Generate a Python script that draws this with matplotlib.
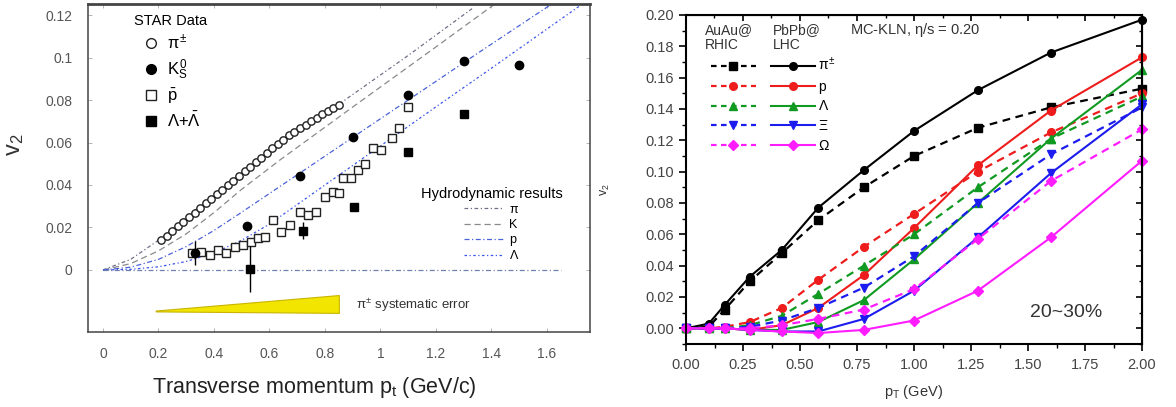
import matplotlib
matplotlib.use("Agg")
import matplotlib.pyplot as plt
from matplotlib.lines import Line2D
from matplotlib.ticker import MultipleLocator, FormatStrFormatter

plt.rcParams['font.family'] = ['Liberation Sans', 'DejaVu Sans']
plt.rcParams['mathtext.fontset'] = 'custom'
plt.rcParams['mathtext.rm'] = 'Liberation Sans'
plt.rcParams['mathtext.it'] = 'Liberation Sans'

# ---------------- left panel: STAR data + hydro ----------------
pion_pt = [0.21, 0.23, 0.25, 0.27, 0.29, 0.31, 0.33, 0.35, 0.37, 0.39, 0.41,
           0.43, 0.45, 0.47, 0.49, 0.51, 0.53, 0.55, 0.57, 0.59, 0.61, 0.63,
           0.65, 0.67, 0.69, 0.71, 0.73, 0.75, 0.77, 0.79, 0.81, 0.83, 0.85]
pion_v2 = [0.0140, 0.0162, 0.0183, 0.0205, 0.0226, 0.0248, 0.0270, 0.0291,
           0.0313, 0.0334, 0.0356, 0.0378, 0.0399, 0.0421, 0.0442, 0.0464,
           0.0486, 0.0507, 0.0529, 0.0550, 0.0572, 0.0594, 0.0614, 0.0633,
           0.0651, 0.0668, 0.0684, 0.0700, 0.0716, 0.0732, 0.0747, 0.0762,
           0.0777]

kaon_pt = [0.33, 0.52, 0.71, 0.90, 1.10, 1.30, 1.50]
kaon_v2 = [0.0080, 0.0207, 0.0444, 0.0626, 0.0824, 0.0984, 0.0965]
kaon_err = [0.0055, 0.0020, 0.0015, 0.0015, 0.0015, 0.0015, 0.0015]

pbar_pt = [0.319, 0.355, 0.385, 0.414, 0.445, 0.475, 0.504, 0.535, 0.558,
           0.583, 0.612, 0.643, 0.673, 0.709, 0.738, 0.769, 0.799, 0.828,
           0.850, 0.865, 0.892, 0.918, 0.943, 0.972, 1.003, 1.040, 1.068,
           1.100]
pbar_v2 = [0.0078, 0.0086, 0.0071, 0.0094, 0.0082, 0.0108, 0.0118, 0.0133,
           0.0150, 0.0155, 0.0235, 0.0180, 0.0212, 0.0275, 0.0259, 0.0275,
           0.0345, 0.0368, 0.0360, 0.0433, 0.0433, 0.0470, 0.0500, 0.0574,
           0.0565, 0.0620, 0.0668, 0.0767]

lam_pt = [0.53, 0.72, 0.906, 1.10, 1.30]
lam_v2 = [0.0005, 0.0184, 0.0296, 0.0555, 0.0734]
lam_err = [0.0110, 0.0040, 0.0015, 0.0015, 0.0015]

hydro_pi_pt = [0, 0.1, 0.2, 0.3, 0.4, 0.6, 0.85, 1.1, 1.33]
hydro_pi_v2 = [0, 0.005, 0.014, 0.025, 0.035, 0.056, 0.078, 0.101, 0.123]
hydro_k_pt = [0, 0.1, 0.2, 0.3, 0.4, 0.5, 0.64, 0.9, 1.2, 1.41]
hydro_k_v2 = [0, 0.003, 0.009, 0.017, 0.027, 0.038, 0.052, 0.0767, 0.105, 0.125]
hydro_p_pt = [0, 0.1, 0.2, 0.3, 0.4, 0.5, 0.6, 0.7, 0.8, 0.9, 1.1, 1.35, 1.615]
hydro_p_v2 = [0, 0.0013, 0.005, 0.011, 0.0186, 0.0272, 0.036, 0.0448, 0.0536,
              0.0624, 0.080, 0.102, 0.125]
hydro_l_pt = [0, 0.1, 0.2, 0.3, 0.4, 0.5, 0.6, 0.7, 0.8, 0.9, 1.0, 1.2, 1.4, 1.72]
hydro_l_v2 = [0, 0.0003, 0.0015, 0.004, 0.008, 0.014, 0.0216, 0.0308, 0.040,
              0.0492, 0.0584, 0.0768, 0.095, 0.1245]
zero_pt = [0.0, 1.65]
zero_v2 = [0.0, 0.0]

syst_pt = [0.19, 0.85]
syst_lo = [-0.0195, -0.0202]
syst_hi = [-0.0191, -0.0118]

left_xticks = [0, 0.2, 0.4, 0.6, 0.8, 1.0, 1.2, 1.4, 1.6]
left_xlabels = ['0', '0.2', '0.4', '0.6', '0.8', '1', '1.2', '1.4', '1.6']
left_yticks = [0, 0.02, 0.04, 0.06, 0.08, 0.1, 0.12]
left_ylabels = ['0', '0.02', '0.04', '0.06', '0.08', '0.1', '0.12']

# ---------------- right panel: MC-KLN hydro, RHIC vs LHC ----------------
pt_grid = [0.0, 0.1, 0.17, 0.28, 0.42, 0.58, 0.78, 1.0, 1.28, 1.6, 2.0]
species = ['$\\pi^{\\pm}$', 'p', '$\\Lambda$', '$\\Xi$', '$\\Omega$']
colors = ['#000000', '#ee1c1c', '#119a22', '#1c1cee', '#ff1cff']
markers = ['s', 'o', '^', 'v', 'D']
lhc_markers = ['o', 'o', '^', 'v', 'D']

lhc_v2 = [
    [0.0, 0.003, 0.015, 0.033, 0.050, 0.077, 0.101, 0.126, 0.152, 0.176, 0.197],
    [0.0, 0.0, 0.0, -0.001, 0.002, 0.013, 0.034, 0.064, 0.104, 0.139, 0.173],
    [0.0, 0.0, 0.0, -0.001, -0.001, 0.004, 0.018, 0.044, 0.080, 0.121, 0.165],
    [0.0, 0.0, 0.0, -0.001, -0.002, -0.002, 0.006, 0.024, 0.058, 0.099, 0.143],
    [0.0, 0.0, 0.0, -0.001, -0.002, -0.003, -0.001, 0.005, 0.024, 0.058, 0.107],
]
rhic_v2 = [
    [0.0, 0.001, 0.012, 0.030, 0.048, 0.069, 0.090, 0.110, 0.128, 0.141, 0.153],
    [0.0, 0.0, 0.001, 0.004, 0.013, 0.031, 0.052, 0.073, 0.100, 0.125, 0.150],
    [0.0, 0.0, 0.0, 0.002, 0.008, 0.022, 0.040, 0.060, 0.090, 0.121, 0.148],
    [0.0, 0.0, 0.0, 0.001, 0.005, 0.013, 0.026, 0.046, 0.080, 0.111, 0.141],
    [0.0, 0.0, 0.0, 0.0, 0.002, 0.006, 0.012, 0.025, 0.057, 0.094, 0.127],
]

fig = plt.figure(figsize=(11.76, 4.07), dpi=100)

# ======== left panel ========
ax1 = fig.add_axes([88 / 1176, 1 - 332 / 407, 502 / 1176, 328 / 407])
hydro_style = [
    (hydro_pi_pt, hydro_pi_v2, '#707088', (0, (3, 2, 1, 2)), '$\\pi$'),
    (hydro_k_pt, hydro_k_v2, '#8a8a8a', (0, (5, 3)), 'K'),
    (hydro_p_pt, hydro_p_v2, '#4b63d8', (0, (4, 2, 1, 2)), 'p'),
    (hydro_l_pt, hydro_l_v2, '#3b55e8', (0, (2, 2, 1, 2)), '$\\Lambda$'),
]
hydro_handles = []
for xs, ys, c, ls, lab in hydro_style:
    ax1.plot(xs, ys, color=c, ls=ls, lw=0.9)
    hydro_handles.append(Line2D([], [], color=c, ls=ls, lw=0.9))
ax1.plot(zero_pt, zero_v2, color='#7080b0', ls=(0, (4, 2, 1, 2)), lw=0.9)

ax1.fill_between(syst_pt, syst_lo, syst_hi, color='#f2e600',
                 edgecolor='#c8b400', lw=0.8)
ax1.text(0.91, -0.0165, '$\\pi^{\\pm}$ systematic error', fontsize=9.5,
         color='#333333', va='center')

ax1.plot(pion_pt, pion_v2, 'o', mfc='white', mec='#222222', ms=5.3, mew=1.0)
ax1.plot(pbar_pt, pbar_v2, 's', mfc='white', mec='#222222', ms=6, mew=1.0)
ax1.errorbar(kaon_pt, kaon_v2, yerr=kaon_err, fmt='o', color='black',
             ms=6, elinewidth=1.0, capsize=0)
ax1.errorbar(lam_pt, lam_v2, yerr=lam_err, fmt='s', color='black',
             ms=5.5, elinewidth=1.0, capsize=0)

ax1.set_xlim(-0.054, 1.755)
ax1.set_ylim(-0.0292, 0.1252)
ax1.set_xticks(left_xticks)
ax1.set_xticklabels(left_xlabels)
ax1.set_yticks(left_yticks)
ax1.set_yticklabels(left_ylabels)
ax1.tick_params(direction='in', length=3, width=0.6, colors='#aaaaaa',
                labelcolor='#555555', labelsize=10, top=True, right=True,
                pad=11)
for side in ax1.spines.values():
    side.set_color('#444444')
    side.set_linewidth(1.1)
ax1.spines['top'].set_linewidth(2.0)

star_handles = [
    Line2D([], [], marker='o', mfc='white', mec='#222222', ls='none', ms=7),
    Line2D([], [], marker='o', color='black', ls='none', ms=7),
    Line2D([], [], marker='s', mfc='white', mec='#222222', ls='none', ms=7),
    Line2D([], [], marker='s', color='black', ls='none', ms=7),
]
star_labels = ['$\\pi^{\\pm}$', '$K^0_S$', '$\\bar{p}$', '$\\Lambda$+$\\bar{\\Lambda}$']
leg1 = ax1.legend(star_handles, star_labels, title='STAR Data',
                  loc='upper left', bbox_to_anchor=(0.075, 0.995),
                  frameon=False, fontsize=12, title_fontsize=10.5,
                  handletextpad=0.0, labelspacing=0.3, borderpad=0,
                  alignment='left')
ax1.add_artist(leg1)
ax1.legend(hydro_handles, [h[4] for h in hydro_style],
           title='Hydrodynamic results', loc='upper left',
           bbox_to_anchor=(0.65, 0.462), frameon=False, fontsize=9,
           title_fontsize=10.5, handlelength=3.2, handletextpad=0.4,
           labelspacing=0.25, borderpad=0, alignment='center')

fig.text(15 / 1176, 1 - 145 / 407, 'v$_2$', rotation=90, fontsize=17,
         ha='center', va='center', color='#333333')
fig.text(314 / 1176, 1 - 387 / 407, 'Transverse momentum p$_t$ (GeV/c)',
         fontsize=15.5, ha='center', va='center', color='#222222')

# ======== right panel ========
ax2 = fig.add_axes([686 / 1176, 1 - 344 / 407, 456 / 1176, 329 / 407])
rhic_handles, lhc_handles = [], []
for i in range(len(species)):
    ax2.plot(pt_grid, rhic_v2[i], ls=(0, (3.5, 2.5)), lw=1.6, color=colors[i],
             marker=markers[i], ms=5.5, clip_on=False)
    ax2.plot(pt_grid, lhc_v2[i], ls='-', lw=1.5, color=colors[i],
             marker=lhc_markers[i], ms=5.5, clip_on=False)
    rhic_handles.append(Line2D([], [], ls=(0, (2.5, 2)), lw=1.6, color=colors[i],
                               marker=markers[i], ms=5.5))
    lhc_handles.append(Line2D([], [], ls='-', lw=1.5, color=colors[i],
                              marker=lhc_markers[i], ms=5.5))

ax2.set_xlim(0.0, 2.0)
ax2.set_ylim(-0.01, 0.20)
ax2.xaxis.set_major_locator(MultipleLocator(0.25))
ax2.xaxis.set_minor_locator(MultipleLocator(0.125))
ax2.yaxis.set_major_locator(MultipleLocator(0.02))
ax2.yaxis.set_minor_locator(MultipleLocator(0.01))
ax2.xaxis.set_major_formatter(FormatStrFormatter('%.2f'))
ax2.yaxis.set_major_formatter(FormatStrFormatter('%.2f'))
ax2.tick_params(which='major', direction='out', length=5, width=1.2,
                labelsize=10.5, labelcolor='#444444')
ax2.tick_params(axis='x', which='major', pad=5)
ax2.tick_params(which='minor', direction='out', length=3, width=1.0)
for side in ax2.spines.values():
    side.set_linewidth(1.5)
top = ax2.secondary_xaxis('top')
top.xaxis.set_major_locator(MultipleLocator(0.25))
top.xaxis.set_minor_locator(MultipleLocator(0.125))
top.tick_params(which='major', direction='in', length=4, width=1.2, labeltop=False)
top.tick_params(which='minor', direction='in', length=2.5, width=1.0)
right = ax2.secondary_yaxis('right')
right.yaxis.set_major_locator(MultipleLocator(0.02))
right.yaxis.set_minor_locator(MultipleLocator(0.01))
right.tick_params(which='major', direction='in', length=4, width=1.2, labelright=False)
right.tick_params(which='minor', direction='in', length=2.5, width=1.0)

ax2.legend(rhic_handles + lhc_handles, [''] * 5 + species, ncol=2,
           loc='upper left', bbox_to_anchor=(0.04, 0.895), frameon=False,
           fontsize=10, handlelength=3.2, handletextpad=0.2,
           columnspacing=0.9, labelspacing=0.42, borderpad=0)
ax2.text(0.042, 0.975, 'AuAu@\nRHIC', transform=ax2.transAxes, fontsize=10,
         va='top', ha='left', color='#333333', linespacing=1.05)
ax2.text(0.19, 0.975, 'PbPb@\nLHC', transform=ax2.transAxes, fontsize=10,
         va='top', ha='left', color='#333333', linespacing=1.05)
ax2.text(0.36, 0.955, 'MC-KLN, $\\eta$/s = 0.20', transform=ax2.transAxes,
         fontsize=10.5, va='center', ha='left', color='#333333')
ax2.text(1.51, 0.0102, '20~30%', fontsize=14, va='center', color='#333333')

fig.text(605 / 1176, 1 - 190 / 407, 'v$_2$', rotation=90, fontsize=9,
         ha='center', va='center', color='#333333')
fig.text(914 / 1176, 1 - 392 / 407, 'p$_T$ (GeV)', fontsize=10.5,
         ha='center', va='center', color='#333333')

fig.savefig('out.png', dpi=100)
